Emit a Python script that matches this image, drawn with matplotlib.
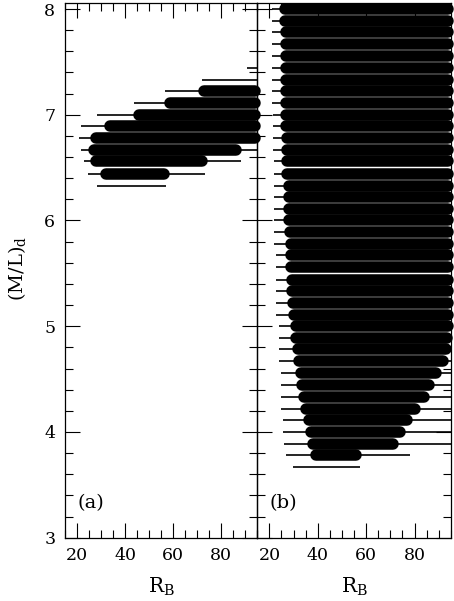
import matplotlib
matplotlib.use("Agg")
import matplotlib.pyplot as plt
from matplotlib.ticker import MultipleLocator

plt.rcParams['font.family'] = ['DejaVu Serif']
plt.rcParams['mathtext.fontset'] = 'dejavuserif'

# ---------------- data ----------------
# panel (a): thick bars (range of R_B of acceptable fits at each (M/L)_d)
a_bar_ml = [6.44, 6.56, 6.67, 6.78, 6.89, 7.00, 7.11, 7.22, 7.33]
a_bar_lo = [32.0, 27.9, 26.9, 27.9, 33.8, 45.9, 58.8, 72.8, 93.9]
a_bar_hi = [56.0, 71.9, 86.1, 94.0, 94.0, 94.0, 94.0, 94.0, 93.9]
# panel (a): thin lines
a_line_ml = [6.33, 6.44, 6.56, 6.67, 6.78, 6.89, 7.00, 7.11, 7.22, 7.33, 7.44]
a_line_lo = [28.2, 24.7, 23.0, 21.6, 20.9, 21.6, 28.2, 43.8, 56.8, 72.0, 90.7]
a_line_hi = [57.2, 73.3, 88.3, 96.0, 96.0, 96.0, 96.0, 96.0, 96.0, 96.0, 96.0]

# panel (b): thick bars
b_bar_ml = [3.78, 3.89, 4.00, 4.11, 4.22, 4.33, 4.44, 4.56, 4.67, 4.78,
            4.89, 5.00, 5.11, 5.22, 5.33, 5.44, 5.56, 5.67, 5.78, 5.89,
            6.00, 6.11, 6.22, 6.33, 6.44, 6.56, 6.67, 6.78, 6.89, 7.00,
            7.11, 7.22, 7.33, 7.44, 7.56, 7.67, 7.78, 7.89, 8.00]
b_bar_lo = [39.1, 38.1, 37.0, 36.3, 35.2, 34.2, 33.3, 33.1, 32.2, 31.9,
            31.2, 30.8, 30.1, 29.9, 29.4, 29.4, 29.0, 29.0, 29.0, 28.4,
            28.3, 28.0, 28.0, 28.0, 27.4, 27.3, 27.3, 27.3, 27.0, 27.0,
            27.0, 27.0, 27.0, 27.0, 27.0, 27.0, 27.0, 26.6, 26.6]
b_bar_hi = [55.9, 71.1, 73.9, 76.9, 80.1, 83.8, 85.9, 88.8, 91.8, 93.2,
            93.5, 94.0, 94.0, 94.0, 94.0, 94.0, 94.0, 94.0, 94.0, 94.0,
            94.0, 94.0, 94.0, 94.0, 94.0, 94.0, 94.0, 94.0, 94.0, 94.0,
            94.0, 94.0, 94.0, 94.0, 94.0, 94.0, 94.0, 94.0, 94.0]
# panel (b): thin lines
b_line_ml = [3.67] + b_bar_ml
b_line_lo = [29.9, 26.9, 26.2, 25.8, 25.8, 24.8, 24.8, 24.8, 24.8, 24.0,
             24.0, 24.0, 24.0, 22.6, 22.6, 22.6, 22.6, 22.6, 22.6, 21.9,
             21.9, 21.9, 21.9, 21.9, 21.9, 21.9, 21.9, 21.6, 21.6, 21.6,
             21.6, 21.2, 21.2, 21.2, 21.2, 21.2, 21.2, 21.2, 21.0, 21.0]
b_line_hi = [57.5, 78.2] + [96.0] * 38

x_ticks = [20, 40, 60, 80]
y_ticks = [3, 4, 5, 6, 7, 8]
panel_labels = ['(a)', '(b)']

# ---------------- figure ----------------
W, H = 454, 601
fig = plt.figure(figsize=(W / 100, H / 100), dpi=100, facecolor='white')
bottom = 1 - 537.7 / H
height = 534.4 / H
axa = fig.add_axes([65 / W, bottom, 192.3 / W, height])
axb = fig.add_axes([257.3 / W, bottom, 193.5 / W, height])

BAR_LW = 8.3
LINE_LW = 1.2

panels = [
    (axa, a_bar_ml, a_bar_lo, a_bar_hi, a_line_ml, a_line_lo, a_line_hi),
    (axb, b_bar_ml, b_bar_lo, b_bar_hi, b_line_ml, b_line_lo, b_line_hi),
]

for i, (ax, bm, blo, bhi, lm, llo, lhi) in enumerate(panels):
    ax.set_facecolor('none')
    for y, lo, hi in zip(lm, llo, lhi):
        ax.plot([lo, hi], [y, y], color='black', lw=LINE_LW, zorder=2,
                solid_capstyle='butt')
    for y, lo, hi in zip(bm, blo, bhi):
        ax.plot([lo, hi], [y, y], color='black', lw=BAR_LW, zorder=3,
                solid_capstyle='round', clip_on=False)
    ax.set_xlim(15, 95)
    ax.set_ylim(3, 8.054)
    ax.set_xticks(x_ticks)
    ax.set_yticks(y_ticks)
    ax.xaxis.set_minor_locator(MultipleLocator(5))
    ax.yaxis.set_minor_locator(MultipleLocator(0.2))
    ax.tick_params(which='both', direction='in', top=True, right=True,
                   width=0.8, labelsize=12.5, pad=7)
    ax.tick_params(which='major', length=10.8)
    ax.tick_params(which='minor', length=5.5)
    for s in ax.spines.values():
        s.set_linewidth(0.9)
    ax.set_xlabel(r'R$_\mathregular{B}$', fontsize=14.5)
    ax.xaxis.set_label_coords(0.5, -0.072)
    ax.text(20, 3.33, panel_labels[i], fontsize=14, ha='left', va='center')

axb.tick_params(labelleft=False)
fig.text(17 / W, 1 - 268 / H, r'(M/L)$_\mathregular{d}$', fontsize=14,
         rotation=90, ha='center', va='center')

fig.savefig('out.png', dpi=100, facecolor='white')
